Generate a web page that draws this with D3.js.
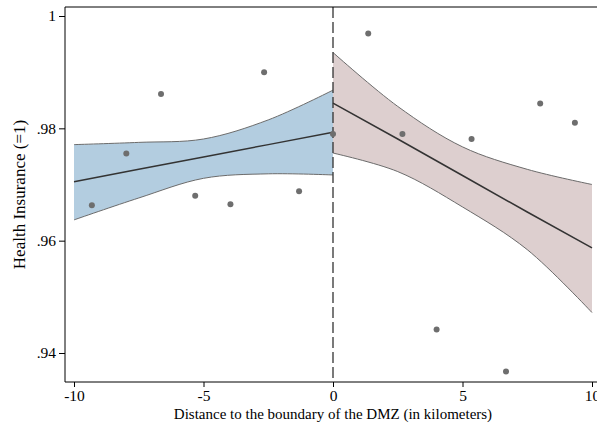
<!DOCTYPE html>
<html>
<head>
<meta charset="utf-8">
<script src="https://cdn.jsdelivr.net/npm/d3@7"></script>
<style>
  body { margin: 0; background: #fff; }
  text { font-family: "Liberation Serif", "Times New Roman", serif; fill: #000; }
</style>
</head>
<body>
<div id="chart"></div>
<script>
// binned means, left and right of the boundary
const leftX = [-9.31, -7.98, -6.64, -5.32, -3.96, -2.66, -1.31, 0]
const leftY = [.9663, .9755, .9861, .9680, .9665, .9900, .9688, .9790]
const rightX = [1.36, 2.68, 4.0, 5.35, 6.68, 8.0, 9.34]
const rightY = [.9969, .9790, .9442, .9781, .9367, .9844, .9810]

// fitted line and confidence band, read at fixed distances
const bandLeftX = [-10, -7.5, -5, -2.5, 0]
const fitLeft = [.9705, .9727, .9749, .9771, .9793]
const upperLeft = [.9771, .9775, .9781, .9815, .9868]
const lowerLeft = [.9637, .9676, .9711, .9719, .9717]

const bandRightX = [0, 2.5, 5, 7.5, 10]
const fitRight = [.9845, .9781, .9716, .9651, .9587]
const upperRight = [.9935, .9839, .9767, .9727, .9700]
const lowerRight = [.9756, .9723, .9660, .9584, .9472]

const xTicks = [-10, -5, 0, 5, 10]
const yTicks = [.94, .96, .98, 1]
const yTickLabels = [".94", ".96", ".98", "1"]

async function drawChart(){

    const dimensions = {
        width: 597,
        height: 427,
        frame: { left: 65, top: 7, bottom: 382 }
    }

    const svg = d3.select("#chart")
      .append("svg")
        .attr("width", dimensions.width)
        .attr("height", dimensions.height)

    // scales
    const xScale = d3.scaleLinear()
        .domain([-10, 10])
        .range([74, 592])

    const yScale = d3.scaleLinear()
        .domain([.94, 1])
        .range([353, 16])

    const toRows = (xs, fit, lo, hi) => xs.map((x, i) => ({ x, fit: fit[i], lo: lo[i], hi: hi[i] }))
    const leftRows = toRows(bandLeftX, fitLeft, lowerLeft, upperLeft)
    const rightRows = toRows(bandRightX, fitRight, lowerRight, upperRight)

    const bandCurve = d3.curveCatmullRom.alpha(0.5)

    const areaGen = d3.area()
        .x(d => xScale(d.x))
        .y0(d => yScale(d.lo))
        .y1(d => yScale(d.hi))
        .curve(bandCurve)

    const edgeGen = (key, curve) => d3.line()
        .x(d => xScale(d.x))
        .y(d => yScale(d[key]))
        .curve(curve)

    const drawBand = (rows, fill) => {
        svg.append("path")
            .attr("d", areaGen(rows))
            .attr("fill", fill)
        ;["lo", "hi"].forEach(k => {
            svg.append("path")
                .attr("d", edgeGen(k, bandCurve)(rows))
                .attr("fill", "none")
                .attr("stroke", "#6b6b6b")
                .attr("stroke-width", 1)
        })
    }

    drawBand(leftRows, "#b3cde0")
    drawBand(rightRows, "#ddcfcf")

    // dashed boundary line
    svg.append("line")
        .attr("x1", xScale(0)).attr("x2", xScale(0))
        .attr("y1", dimensions.frame.top).attr("y2", dimensions.frame.bottom)
        .attr("stroke", "#333")
        .attr("stroke-width", 1.3)
        .attr("stroke-dasharray", "11,4")

    // fitted lines
    ;[leftRows, rightRows].forEach(rows => {
        svg.append("path")
            .attr("d", edgeGen("fit", d3.curveLinear)(rows))
            .attr("fill", "none")
            .attr("stroke", "#333")
            .attr("stroke-width", 1.5)
    })

    // bin means
    const points = leftX.map((x, i) => ({ x, y: leftY[i] }))
        .concat(rightX.map((x, i) => ({ x, y: rightY[i] })))

    svg.selectAll("circle")
        .data(points)
        .enter().append("circle")
            .attr("cx", d => xScale(d.x))
            .attr("cy", d => yScale(d.y))
            .attr("r", 3)
            .attr("fill", "#6e6e6e")

    // frame
    svg.append("path")
        .attr("d", `M${dimensions.frame.left},${dimensions.frame.bottom}V${dimensions.frame.top}H${dimensions.width + 5}`)
        .attr("fill", "none")
        .attr("stroke", "#000")
        .attr("stroke-width", 1)

    // axes
    const xAxis = svg.append("g")
        .attr("transform", `translate(0, ${dimensions.frame.bottom})`)
        .call(d3.axisBottom(xScale).tickValues(xTicks).tickSize(5).tickPadding(3).tickFormat(d => String(d)))
    xAxis.select(".domain").attr("d", `M${dimensions.frame.left},0H${dimensions.width + 5}`)
    xAxis.selectAll("text").style("font-size", "15.5px").style("font-family", "Liberation Serif")

    const yAxis = svg.append("g")
        .attr("transform", `translate(${dimensions.frame.left}, 0)`)
        .call(d3.axisLeft(yScale).tickValues(yTicks).tickSize(6).tickPadding(3)
            .tickFormat((d, i) => yTickLabels[i]))
    yAxis.select(".domain").remove()
    yAxis.selectAll("text").style("font-size", "15.5px").style("font-family", "Liberation Serif")

    // labels
    svg.append("text")
        .attr("x", xScale(0))
        .attr("y", 419)
        .attr("text-anchor", "middle")
        .style("font-size", "15px")
        .text("Distance to the boundary of the DMZ (in kilometers)")

    svg.append("text")
        .attr("transform", `translate(25, ${(dimensions.frame.top + dimensions.frame.bottom) / 2}) rotate(-90)`)
        .attr("text-anchor", "middle")
        .style("font-size", "17px")
        .text("Health Insurance (=1)")
}

drawChart();
</script>
</body>
</html>
